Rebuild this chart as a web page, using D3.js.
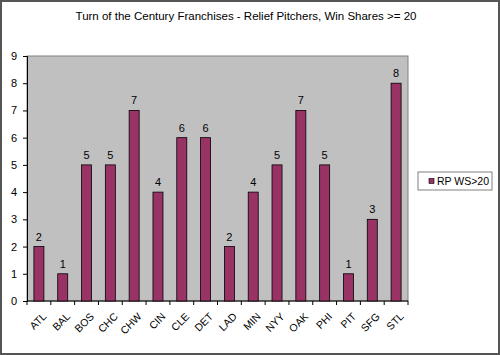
<!DOCTYPE html>
<html><head><meta charset="utf-8">
<script src="https://cdn.jsdelivr.net/npm/d3@7"></script>
<style>body{margin:0;background:#fff}svg{display:block}text{font-family:"Liberation Sans",Arial,sans-serif;fill:#000}</style>
</head><body>
<script>
const categories = ["ATL","BAL","BOS","CHC","CHW","CIN","CLE","DET","LAD","MIN","NYY","OAK","PHI","PIT","SFG","STL"];
const values = [2,1,5,5,7,4,6,6,2,4,5,7,5,1,3,8];
const yTicks = [0,1,2,3,4,5,6,7,8,9];
const title = "Turn  of the Century Franchises - Relief Pitchers, Win Shares >= 20";
const seriesName = "RP WS>20";

const W = 500, H = 355;
const m = {left:27, right:92, top:56, bottom:54};
const svg = d3.select("body").append("svg").attr("width",W).attr("height",H);
svg.append("rect").attr("x",1).attr("y",1).attr("width",W-2).attr("height",H-2)
  .attr("fill","#fff").attr("stroke","#555").attr("stroke-width",2);

const x = d3.scaleBand().domain(categories).range([m.left, W-m.right]).paddingInner(0.58).paddingOuter(0.29);
const y = d3.scaleLinear().domain([0,9]).range([H-m.bottom, m.top]);

svg.append("rect").attr("x",m.left).attr("y",m.top).attr("width",W-m.right-m.left).attr("height",H-m.bottom-m.top)
  .attr("fill","#c0c0c0").attr("stroke","#808080").attr("stroke-width",1);

svg.append("text").attr("x",246).attr("y",20).attr("text-anchor","middle").attr("font-size",11.5).text(title);

const yAxis = svg.append("g").attr("transform",`translate(${m.left},0)`)
  .call(d3.axisLeft(y).tickValues(yTicks).tickSize(4).tickPadding(6).tickFormat(d3.format("d")));
yAxis.selectAll("text").attr("font-size",11).attr("font-family","Liberation Sans, Arial, sans-serif");
yAxis.selectAll("line,path").attr("stroke","#000");

const step = x.step();
const xAxis = svg.append("g").attr("transform",`translate(0,${H-m.bottom})`);
xAxis.append("line").attr("x1",m.left).attr("x2",W-m.right).attr("stroke","#000");
xAxis.selectAll("line.t").data(d3.range(categories.length+1)).join("line").attr("class","t")
  .attr("x1",i=>m.left+i*step).attr("x2",i=>m.left+i*step).attr("y1",0).attr("y2",4).attr("stroke","#000");
xAxis.selectAll("text").data(categories).join("text")
  .attr("transform",d=>`translate(${x(d)+x.bandwidth()/2+3},${11}) rotate(-45)`)
  .attr("text-anchor","end").attr("dy","0.7em").attr("font-size",10.5).text(d=>d);

svg.selectAll("rect.bar").data(values).join("rect").attr("class","bar")
  .attr("x",(d,i)=>x(categories[i])).attr("width",x.bandwidth())
  .attr("y",d=>y(d)).attr("height",d=>y(0)-y(d))
  .attr("fill","#993366").attr("stroke","#000").attr("stroke-width",0.8);

svg.selectAll("text.val").data(values).join("text").attr("class","val")
  .attr("x",(d,i)=>x(categories[i])+x.bandwidth()/2).attr("y",d=>y(d)-6)
  .attr("text-anchor","middle").attr("font-size",11).text(d=>d);

const lg = svg.append("g");
lg.append("rect").attr("x",418).attr("y",172).attr("width",74).attr("height",18).attr("fill","#fff").attr("stroke","#808080");
lg.append("rect").attr("x",429).attr("y",178.5).attr("width",5).attr("height",5).attr("fill","#993366").attr("stroke","#000").attr("stroke-width",0.6);
lg.append("text").attr("x",437).attr("y",185).attr("font-size",10.5).text(seriesName);
</script>
</body></html>
